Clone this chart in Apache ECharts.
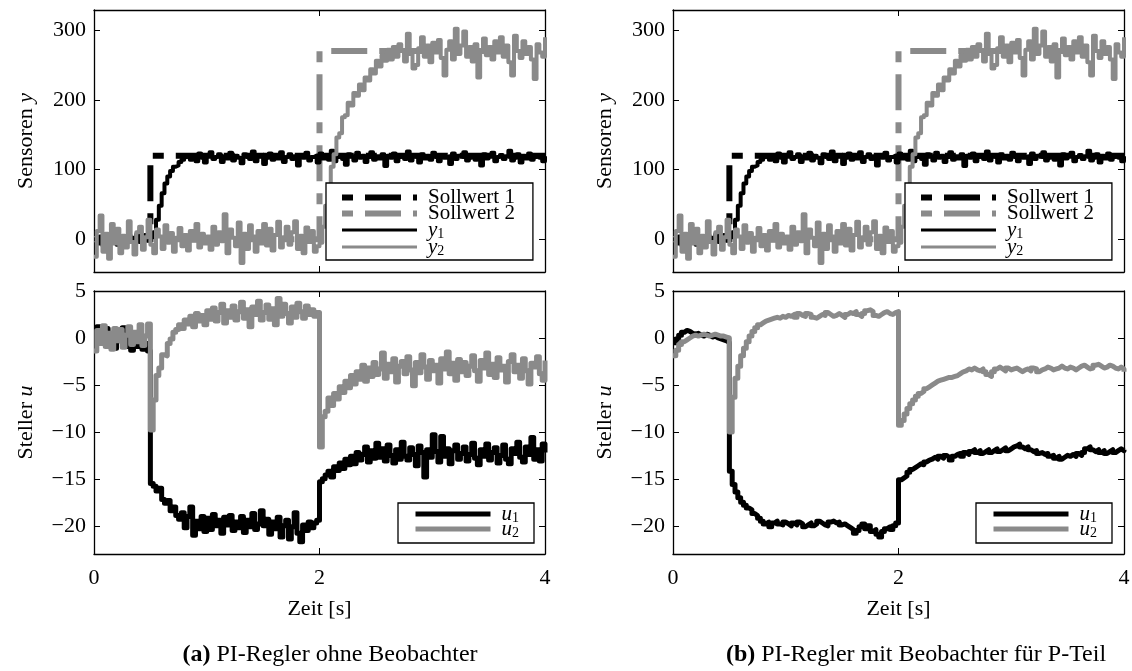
<!DOCTYPE html>
<html>
<head>
<meta charset="utf-8">
<script src="https://cdn.jsdelivr.net/npm/echarts@6/dist/echarts.min.js"></script>
<style>
html, body { margin: 0; padding: 0; background: #fff; }
#chart { width: 1132px; height: 671px; }
</style>
</head>
<body>
<div id="chart"></div>
<script>
// Time span of every recording in seconds
const timeSpan = 4;

// Setpoints (Sollwerte) as step signals
const setpointTimes1 = [0, 0.5, 0.5, 4];
const setpoint1 = [0, 0, 120, 120];
const setpointTimes2 = [0, 2, 2, 4];
const setpoint2 = [0, 0, 270, 270];

// Sensor readings y1, y2 (161 samples, 0..4 s)
const sensorY1 = [
  0, -6, 4, -9, 2, -4, 6, -2, -8, 3,
  1, -5, 5, -3, 2, 7, -4, 1, 6, -2,
  3, 10, 28, 48, 66, 80, 90, 98, 104, 106,
  111, 114, 118,
  121, 114, 119, 112, 123, 117, 110, 120, 125, 115,
  118, 122, 111, 119, 116, 124, 113, 120, 117, 109,
  122, 118, 115, 126, 112, 119, 121, 108, 117, 123,
  114, 120, 116, 125, 111, 118, 122, 115, 119, 106,
  121, 117, 124, 113, 118, 120, 110, 123, 116, 119,
  114, 127, 112, 118, 121, 115, 107, 122, 119, 113,
  124, 117, 120, 111, 118, 125, 114, 119, 116, 122,
  105, 120, 117, 123, 112, 118, 121, 115, 126, 113,
  119, 117, 110, 122, 116, 120, 114, 124, 118, 112,
  121, 117, 119, 108, 123, 115, 120, 118, 125, 113,
  117, 121, 114, 119, 106, 122, 116, 120, 124, 112,
  118, 121, 115, 119, 127, 113, 117, 122, 110, 120,
  116, 123, 114, 118, 121, 117, 112, 119
];
const sensorY2 = [
  -25, 12, 34, -18, 8, -28, 22, -6, 15, -20,
  5, -12, 26, -4, -22, 10, 18, -15, 3, 28,
  -8, -20, 14, 4, -14, 20, -5, 9, -18, 2,
  16, -10, 6, -16, 12, -2, 22, -12, 8, -6,
  4, -15, 18, -8, 10, -3, 36, -20, 14, 2,
  -10, 24, -34, 8, -14, 20, 4, -18, 12, -6,
  22, -9, 15, -16, 6, 25, -12, 3, 18, -8,
  10, 26, -14, 5, -20, 17, -4, 12, -18, -10,
  -5,
  18, 48, 70, 104, 122, 146, 152, 175, 178, 196,
  192, 210, 206, 222, 214, 232, 228, 244, 238, 256,
  248, 264, 256, 272,
  258, 276, 262, 280, 270, 255, 295, 266, 245, 250,
  274, 290, 262, 278, 254, 282, 268, 286, 260, 235,
  272, 284, 258, 302, 266, 278, 298, 262, 276, 255,
  280, 232, 270, 288, 264, 276, 258, 284, 268, 290,
  262, 278, 254, 235, 292, 270, 260, 284, 266, 276,
  258, 230, 280, 268, 262, 290
];

// Actuator signals, PI controller without observer (161 samples)
const actuatorU1a = [
  0.3, 1.2, 0.6, -0.4, 1.0, -0.8, 0.2, -1.1, 0.8, -0.3,
  1.1, -0.9, 0.4, -1.3, -0.2, -0.9, 0.1, -1.2, -0.6, -1.4,
  -15.5, -15.8, -16.3, -16.0, -17.2, -17.6, -17.3, -18.4, -18.0, -18.9,
  -19.3, -18.6, -20.2, -19.0, -18.0, -21.0, -19.5, -20.3, -19.0, -20.6,
  -19.2, -20.4, -18.8, -20.0, -19.4, -20.8, -19.1, -19.9, -18.9, -20.5,
  -19.6, -20.2, -19.0, -20.7, -19.4, -20.1, -18.7, -20.4, -19.8, -18.4,
  -20.0, -19.3, -20.9, -19.6, -20.3, -19.1, -21.2, -20.0, -19.4, -21.4,
  -20.1, -18.6, -20.8, -21.7, -19.9, -20.5, -19.6, -20.2, -19.7, -19.4,
  -15.3,
  -15.0, -14.6, -14.2, -14.8, -13.7, -14.1, -13.3, -13.9, -12.9, -13.5,
  -12.6, -13.4, -12.2, -13.0, -12.4, -11.6, -13.2, -12.0, -12.8, -11.2,
  -12.7, -11.8, -13.1, -11.4, -12.5, -13.3, -11.9, -12.9, -11.1, -12.6,
  -13.0, -11.7, -12.4, -13.6, -11.5, -12.2, -14.8, -11.9, -12.7, -10.3,
  -12.1, -13.2, -10.5, -12.6, -11.8, -13.4, -12.0, -11.4, -12.9, -12.3,
  -11.6, -13.1, -12.4, -11.2, -12.8, -13.5, -11.9, -12.6, -11.3, -13.0,
  -12.2, -11.7, -13.3, -12.5, -11.4, -12.9, -13.4, -11.8, -12.3, -11.1,
  -12.7, -13.2, -11.6, -12.4, -10.6, -12.9, -11.9, -13.1, -11.3, -12.2
];
const actuatorU2a = [
  -1.4, 0.8, -0.6, 1.3, -0.9, 0.5, -1.2, 1.0, -0.3, 0.9,
  -1.0, 0.3, 1.2, -0.7, 0.6, -0.4, 1.4, -0.8, 0.2, 1.5,
  -9.8,
  -6.6, -4.0, -3.2, -1.8, -1.9, -0.6, -0.1, 0.6, 0.9, 1.4,
  1.0, 1.9, 1.5, 2.3, 1.2, 2.6, 1.8, 2.4, 1.4, 2.9,
  2.0, 3.2, 1.8, 2.7, 3.6, 1.6, 2.9, 2.2, 3.4, 1.9,
  2.8, 3.8, 2.1, 3.0, 1.2, 3.3, 2.5, 3.9, 1.9, 2.7,
  3.5, 2.0, 3.1, 1.4, 4.2, 2.3, 3.6, 2.6, 1.6, 3.3,
  2.2, 3.7, 2.8, 2.1, 3.4, 2.5, 3.0, 2.3, 2.7,
  -11.6,
  -8.4, -7.8, -6.4, -7.2, -5.9, -6.5, -5.2, -5.8, -4.6, -5.3,
  -4.0, -4.9, -3.6, -4.4, -2.9, -4.6, -3.2, -4.1, -2.6, -3.9,
  -3.3, -1.6, -4.3, -2.8, -3.6, -2.2, -4.7, -3.0, -2.5, -3.8,
  -2.0, -3.4, -5.1, -2.6, -3.7, -1.8, -3.1, -4.4, -2.4, -3.5,
  -2.9, -4.8, -2.2, -3.3, -1.5, -3.8, -2.7, -4.5, -2.3, -3.6,
  -2.6, -4.0, -3.0, -1.9, -3.5, -4.6, -2.4, -3.2, -1.6, -3.9,
  -2.8, -4.2, -2.1, -3.4, -3.0, -4.7, -2.5, -1.8, -3.6, -2.9,
  -4.3, -2.2, -3.5, -4.9, -2.7, -3.1, -2.0, -3.8, -4.5, -2.4
];

// Actuator signals, PI controller with observer for the P part (161 samples)
const actuatorU1b = [
  -0.5, -0.1, 0.3, 0.6, 0.8, 0.7, 0.5, 0.4, 0.5, 0.3,
  0.2, 0.4, 0.3, 0.1, 0.2, 0.0, -0.1, -0.2, -0.3, -0.5,
  -14.2,
  -15.6, -16.4, -17.0, -17.5, -17.8, -18.1, -18.3, -18.7, -18.9, -19.2,
  -19.5, -19.8, -19.6, -20.1, -19.7, -19.5, -19.8, -19.9, -19.6, -19.8,
  -20.0, -19.7, -19.9, -19.6, -19.8, -20.1, -19.9, -19.7, -20.0, -19.8,
  -19.5, -19.7, -19.9, -20.0, -19.6, -19.5, -19.7, -19.6, -19.9, -19.8,
  -20.0, -20.2, -20.4, -20.8, -20.5, -20.1, -19.8, -20.3, -20.0, -20.6,
  -20.4, -20.9, -21.2, -20.6, -20.3, -20.1, -20.4, -20.0, -19.7,
  -15.1,
  -14.9, -14.7, -14.3, -14.0, -13.8, -13.6, -13.4, -13.5, -13.2, -13.0,
  -12.9, -12.7, -12.9, -12.6, -12.8, -12.5, -12.7, -13.0, -12.6, -12.4,
  -12.3, -12.6, -12.2, -12.4, -12.1, -11.9, -12.2, -12.0, -12.3, -12.1,
  -11.9, -12.2, -12.0, -11.8, -12.1, -11.9, -11.7, -12.0, -11.8, -11.6,
  -11.5, -11.3, -11.6, -11.8, -11.6, -11.9, -12.1, -12.0, -12.3, -12.2,
  -12.4, -12.3, -12.6, -12.5, -12.8, -12.6, -12.9, -12.7, -12.5, -12.6,
  -12.4, -12.6, -12.3, -12.5, -12.2, -11.8, -11.6, -11.9, -12.1, -11.9,
  -12.2, -12.0, -12.3, -12.1, -11.9, -12.2, -12.0, -11.8, -12.0, -11.9
];
const actuatorU2b = [
  -1.9, -1.3, -0.7, -0.4, -0.2, 0.0, 0.2, 0.3, 0.2, 0.3,
  0.4, 0.3, 0.2, 0.3, 0.4, 0.3, 0.2, 0.2, 0.1, 0.0,
  -10.0,
  -6.3, -4.3, -3.0, -1.9, -1.1, -0.4, 0.2, 0.7, 1.1, 1.4,
  1.6, 1.8, 1.9, 2.0, 2.1, 2.2, 2.1, 2.3, 2.2, 2.4,
  2.3, 2.5, 2.2, 2.6, 2.4, 2.3, 2.6, 2.5, 2.2, 2.1,
  2.3, 2.5, 2.4, 2.7, 2.5, 2.3, 2.4, 2.6, 2.4, 2.2,
  2.5, 2.7, 2.6, 2.8, 2.5, 2.3, 2.6, 2.9, 3.0, 2.8,
  2.4, 2.3, 2.5, 2.7, 2.8, 2.6, 2.5, 2.7, 2.8,
  -9.3,
  -8.8, -8.1, -7.5, -7.0, -6.6, -6.2, -5.9, -5.7, -5.4, -5.2,
  -5.0, -4.8, -4.6, -4.5, -4.4, -4.3, -4.2, -4.2, -4.1, -4.0,
  -3.8, -3.6, -3.5, -3.3, -3.4, -3.2, -3.4, -3.5, -3.3, -3.6,
  -3.9, -4.1, -3.6, -3.3, -3.1, -3.3, -3.5, -3.2, -3.4, -3.3,
  -3.2, -3.4, -3.6, -3.4, -3.3, -3.5, -3.2, -3.3, -3.6, -3.4,
  -3.3, -3.1, -3.2, -3.4, -3.3, -3.2, -3.0, -3.2, -3.3, -3.1,
  -3.2, -3.4, -3.2, -3.0, -2.9, -3.1, -3.3, -3.2, -2.9, -2.8,
  -3.0, -3.2, -3.1, -2.9, -3.0, -3.2, -3.3, -3.1, -3.3, -3.6
];

// Axis ticks and ranges
const timeTicks = [0, 2, 4];
const sensorTicks = [0, 100, 200, 300];
const actuatorTicks = [-20, -15, -10, -5, 0, 5];
const sensorRange = [-47, 329];
const actuatorRange = [-23, 5];

const FONT = 'Liberation Serif';
const GRAY = '#8a8a8a';
const LABEL_SIZE = 22;

function sampled(values) {
  const step = timeSpan / (values.length - 1);
  return values.map((v, k) => [k * step, v]);
}
function zipped(times, values) {
  return times.map((t, k) => [t, values[k]]);
}

const grids = [
  { left: 94, top: 10, width: 451, height: 262 },
  { left: 94, top: 291, width: 451, height: 263 },
  { left: 673, top: 10, width: 451, height: 262 },
  { left: 673, top: 291, width: 451, height: 263 }
];

const xAxes = [];
const yAxes = [];
grids.forEach((g, gi) => {
  const bottomRow = gi % 2 === 1;
  const baseX = {
    gridIndex: gi, type: 'value', min: 0, max: timeSpan, interval: 2,
    axisLine: { show: true, onZero: false, lineStyle: { color: '#000', width: 1.3 } },
    axisTick: { show: true, inside: true, length: 6, lineStyle: { color: '#000', width: 1 } },
    splitLine: { show: false }
  };
  xAxes.push(Object.assign({}, baseX, {
    position: 'bottom',
    axisLabel: {
      show: bottomRow, margin: 13, color: '#000', fontFamily: FONT, fontSize: LABEL_SIZE,
      customValues: timeTicks
    },
    name: bottomRow ? 'Zeit [s]' : '',
    nameLocation: 'middle', nameGap: 44,
    nameTextStyle: { color: '#000', fontFamily: FONT, fontSize: LABEL_SIZE }
  }));
  xAxes.push(Object.assign({}, baseX, { position: 'top', axisLabel: { show: false } }));

  const range = bottomRow ? actuatorRange : sensorRange;
  const ticks = bottomRow ? actuatorTicks : sensorTicks;
  const baseY = {
    gridIndex: gi, type: 'value', min: range[0], max: range[1],
    axisLine: { show: true, onZero: false, lineStyle: { color: '#000', width: 1.3 } },
    axisTick: { show: true, inside: true, length: 6, customValues: ticks, lineStyle: { color: '#000', width: 1 } },
    splitLine: { show: false }
  };
  yAxes.push(Object.assign({}, baseY, {
    position: 'left',
    axisLabel: {
      show: true, margin: 8, color: '#000', fontFamily: FONT, fontSize: LABEL_SIZE,
      customValues: ticks,
      formatter: v => String(v).replace('-', '\u2212')
    },
    name: bottomRow ? 'Steller {i|u}' : 'Sensoren {i|y}',
    nameLocation: 'middle', nameGap: 57, nameRotate: 90,
    nameTextStyle: {
      color: '#000', fontFamily: FONT, fontSize: LABEL_SIZE,
      rich: { i: { fontFamily: FONT, fontSize: LABEL_SIZE, fontStyle: 'italic', color: '#000' } }
    }
  }));
  yAxes.push(Object.assign({}, baseY, { position: 'right', axisLabel: { show: false } }));
});

function lineSeries(name, data, gi, color, width, extra) {
  return Object.assign({
    name: name, type: 'line', data: data,
    xAxisIndex: 2 * gi, yAxisIndex: 2 * gi,
    showSymbol: false, symbol: 'none', step: 'end',
    lineStyle: { color: color, width: width, cap: 'butt', join: 'round' },
    itemStyle: { color: color },
    emphasis: { disabled: true },
    silent: true, z: 2
  }, extra || {});
}
const dashPattern = [36, 12, 11, 12];

const series = [];
[0, 2].forEach(gi => {
  series.push(lineSeries('Sollwert 1', zipped(setpointTimes1, setpoint1), gi, '#000', 6, {
    step: false, lineStyle: { color: '#000', width: 6, type: dashPattern, dashOffset: 47.6, cap: 'butt', join: 'miter' }
  }));
  series.push(lineSeries('Sollwert 2', zipped(setpointTimes2, setpoint2), gi, GRAY, 6, {
    step: false, lineStyle: { color: GRAY, width: 6, type: dashPattern, dashOffset: 0.6, cap: 'butt', join: 'miter' }
  }));
  series.push(lineSeries('y1', sampled(sensorY1), gi, '#000', 4));
  series.push(lineSeries('y2', sampled(sensorY2), gi, GRAY, 4));
});
series.push(lineSeries('u1', sampled(actuatorU1a), 1, '#000', 5));
series.push(lineSeries('u2', sampled(actuatorU2a), 1, GRAY, 5));
series.push(lineSeries('u1', sampled(actuatorU1b), 3, '#000', 5));
series.push(lineSeries('u2', sampled(actuatorU2b), 3, GRAY, 5));

// Legend entries with their own sample line styles
const legendLabels = { y1: '{i|y}{s|1}', y2: '{i|y}{s|2}', u1: '{i|u}{s|1}', u2: '{i|u}{s|2}' };
const sensorLegend = [
  { name: 'Sollwert 1', lineStyle: { color: '#000', width: 6, type: dashPattern, dashOffset: 48, cap: 'butt' } },
  { name: 'Sollwert 2', lineStyle: { color: GRAY, width: 6, type: dashPattern, dashOffset: 48, cap: 'butt' } },
  { name: 'y1', lineStyle: { color: '#000', width: 3, type: 'solid' } },
  { name: 'y2', lineStyle: { color: GRAY, width: 3, type: 'solid' } }
];
const actuatorLegend = [
  { name: 'u1', lineStyle: { color: '#000', width: 5, type: 'solid' } },
  { name: 'u2', lineStyle: { color: GRAY, width: 5, type: 'solid' } }
];
function legendBox(items, left, top, padding, gap) {
  return {
    data: items, orient: 'vertical', left: left, top: top,
    padding: padding, itemWidth: 75, itemHeight: 14, itemGap: gap,
    backgroundColor: '#fff', borderColor: '#000', borderWidth: 1.3, borderRadius: 0,
    selectedMode: false,
    itemStyle: { opacity: 0, borderWidth: 0 },
    formatter: n => legendLabels[n] || n,
    textStyle: {
      color: '#000', fontFamily: FONT, fontSize: 21, lineHeight: 14, padding: [0, 0, 0, 6],
      rich: {
        i: { fontFamily: FONT, fontSize: 21, fontStyle: 'italic', lineHeight: 14, color: '#000' },
        s: { fontFamily: FONT, fontSize: 14, lineHeight: 14, padding: [8, 0, 0, 0], color: '#000' }
      }
    }
  };
}

const captionStyle = {
  fill: '#000', font: '24px "Liberation Serif"', align: 'center', verticalAlign: 'middle',
  rich: { b: { fontWeight: 'bold', fontFamily: FONT, fontSize: 24 } }
};

const chart = echarts.init(document.getElementById('chart'), null, { renderer: 'canvas' });
chart.setOption({
  animation: false,
  backgroundColor: '#fff',
  grid: grids.map(g => Object.assign({ outerBoundsMode: 'none', containLabel: false }, g)),
  xAxis: xAxes,
  yAxis: yAxes,
  legend: [
    legendBox(sensorLegend, 326, 183, [4, 18, 2, 13], -5),
    legendBox(actuatorLegend, 398, 503, [0, 15, 3, 15], -7),
    legendBox(sensorLegend, 905, 183, [4, 18, 2, 13], -5),
    legendBox(actuatorLegend, 976, 503, [0, 15, 3, 15], -7)
  ],
  series: series,
  graphic: [
    { type: 'text', x: 330, y: 655, style: Object.assign({ text: '{b|(a)} PI-Regler ohne Beobachter' }, captionStyle) },
    { type: 'text', x: 916, y: 655, style: Object.assign({ text: '{b|(b)} PI-Regler mit Beobachter für P-Teil' }, captionStyle) }
  ]
});
</script>
</body>
</html>
